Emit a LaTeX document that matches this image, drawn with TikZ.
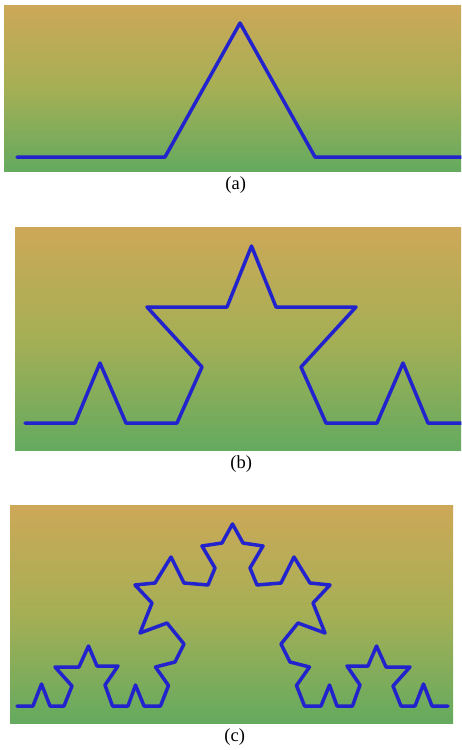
\documentclass[tikz,border=0pt]{standalone}
\usepackage{fontspec}
\setmainfont{Liberation Serif}
\usetikzlibrary{positioning}

\definecolor{kochblue}{RGB}{35,35,205}
\definecolor{bgtop}{RGB}{205,168,88}
\definecolor{bgmid}{RGB}{165,175,85}
\definecolor{bgbot}{RGB}{100,170,95}

\begin{document}
\begin{tikzpicture}[
		x=1pt, y=-1pt,
		every node/.style={font=\fontsize{18.5}{22}\selectfont},
		panel/.style={anchor=north west, inner sep=0pt, top color=bgtop, bottom color=bgbot, middle color=bgmid},
		koch/.style={draw=kochblue, line width=3.5pt, line join=round, line cap=round},
		caption/.style={inner sep=0pt, xshift=3pt}
	]
	\useasboundingbox (0,0) rectangle (461,750);

	% Panels
	\node[panel, minimum width=457pt, minimum height=166pt] (pa) at (4,5) {};
	\node[panel, minimum width=446pt, minimum height=223pt] (pb) at (15,227) {};
	\node[panel, minimum width=443pt, minimum height=218pt] (pc) at (10,505) {};

	% (a) first step
	\begin{scope}
		\clip (pa.north west) rectangle (pa.south east);
		\draw[koch] (17,157) -- (165,157) -- (240,23) -- (315,157) -- (463,157);
	\end{scope}

	% (b) second step
	\begin{scope}
		\clip (pb.north west) rectangle (pb.south east);
		\draw[koch] (25,423) -- (75,423) -- (100,363) -- (126,423) -- (177,423)
			-- (202,367) -- (147,307) -- (227,307) -- (251.5,246) -- (276,307)
			-- (356,307) -- (301,367) -- (326,423) -- (377,423) -- (403,363)
			-- (428,423) -- (478,423);
	\end{scope}

	% (c) third step
	\begin{scope}
		\clip (pc.north west) rectangle (pc.south east);
		\draw[koch] (17,706) -- (33,706) -- (41.5,684) -- (50,706) -- (64,706)
			-- (72,686) -- (55,667) -- (79,667) -- (88.5,646) -- (97,666)
			-- (118,666) -- (105,685) -- (112.5,706) -- (128,706) -- (135.5,685)
			-- (144,706) -- (160.5,706)
			-- (168.5,685.5) -- (155.5,667) -- (175,662) -- (184,644) -- (167,623)
			-- (140,633) -- (152,603) -- (135,585) -- (155,583) -- (171,557)
			-- (184,583) -- (208,585) -- (215,568) -- (202,546) -- (222,543)
			-- (232.5,524)
			-- (243,543) -- (263,546) -- (250,568) -- (257,585) -- (281,583)
			-- (294,557) -- (310,583) -- (330,585) -- (313,603) -- (325,633)
			-- (298,623) -- (281,644) -- (290,662) -- (309.5,667) -- (296.5,685.5)
			-- (304.5,706)
			-- (321,706) -- (329.5,685) -- (337,706) -- (352.5,706) -- (360,685)
			-- (347,666) -- (368,666) -- (376.5,646) -- (386,667) -- (410,667)
			-- (393,686) -- (401,706) -- (415,706) -- (423.5,684) -- (432,706)
			-- (448,706);
	\end{scope}

	% Captions
	\node[caption, below=5pt of pa] (capa) {(a)};
	\node[caption, below=5pt of pb] (capb) {(b)};
	\node[caption, below=5pt of pc] (capc) {(c)};

\end{tikzpicture}
\end{document}
